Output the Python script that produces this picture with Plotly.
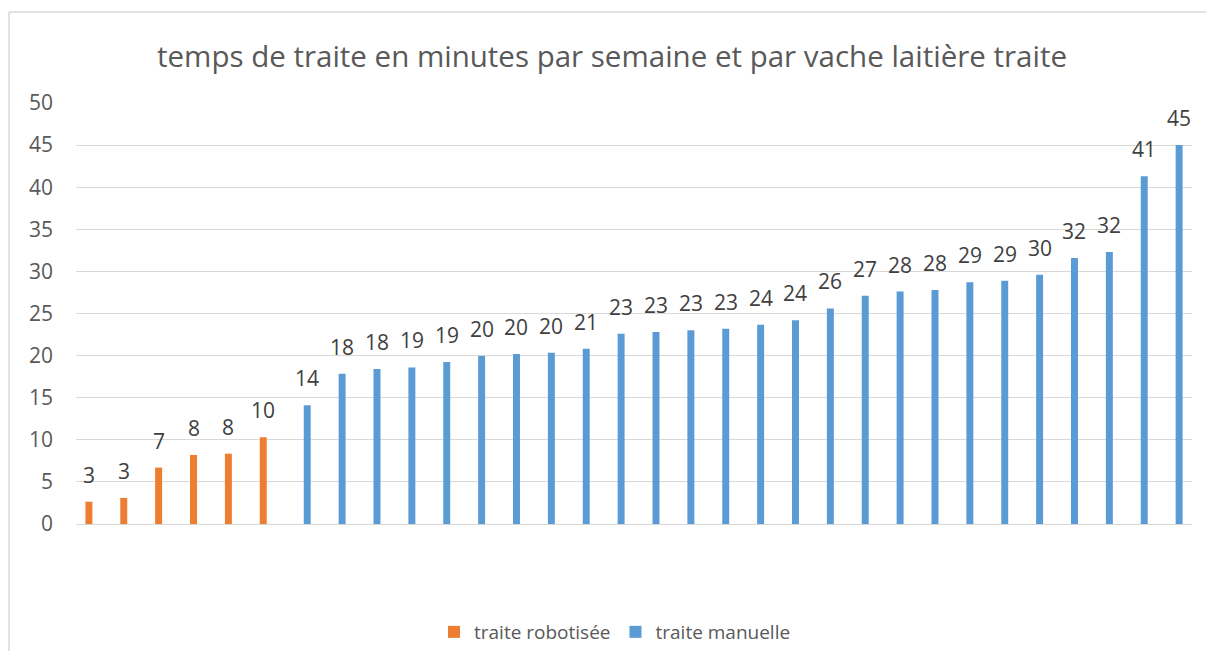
import plotly.graph_objects as go

# category index (one per farm), 1..32
categories = list(range(1, 33))

# temps de traite robotisée (first 6 farms)
robot_values = [2.65, 3.1, 6.7, 8.2, 8.35, 10.3] + [None] * 26

# temps de traite manuelle (remaining 26 farms)
manual_values = [None] * 6 + [
    14.1, 17.85, 18.4, 18.6, 19.25, 19.95, 20.2, 20.35, 20.8,
    22.6, 22.8, 23.0, 23.2, 23.65, 24.2, 25.6, 27.1,
    27.6, 27.8, 28.7, 28.9, 29.6, 31.6, 32.3, 41.3, 45.0,
]

ORANGE = "#ED7D31"
BLUE = "#5B9BD5"
GREY_TXT = "#595959"
LABEL_TXT = "#404040"

# the page body has an 8px margin, so figure pixels = screen pixels - 8
W, H = 1198, 643
L, R, T, B = 68, 1184, 95, 516

# half distance between the two bars of a group, in category units
GROUP_SHIFT = 0.1305


def px_to_paper(x, y):
    return (x - L) / (R - L), (B - y) / (B - T)


fig = go.Figure()

fig.add_trace(go.Bar(
    x=categories,
    y=robot_values,
    name="traite robotisée",
    marker=dict(color=ORANGE, line=dict(width=0)),
))

fig.add_trace(go.Bar(
    x=categories,
    y=manual_values,
    name="traite manuelle",
    marker=dict(color=BLUE, line=dict(width=0)),
))

# data labels a bit above each bar, like Excel
for vals, shift in ((robot_values, -GROUP_SHIFT), (manual_values, GROUP_SHIFT)):
    for c, v in zip(categories, vals):
        if v is None:
            continue
        fig.add_annotation(
            x=c + shift,
            y=v,
            text=f"{v:.0f}",
            showarrow=False,
            yanchor="bottom",
            yshift=11,
            font=dict(size=21, color=LABEL_TXT),
        )

# light grey frame (only top and left edges are visible in the screenshot)
fx0, fy0 = px_to_paper(1, 4)
fx1, fy1 = px_to_paper(W, H)
frame = dict(type="line", xref="paper", yref="paper",
             line=dict(color="#d9d9d9", width=1.5), layer="below")
fig.add_shape(x0=fx0, y0=fy0, x1=fx1, y1=fy0, **frame)
fig.add_shape(x0=fx0, y0=fy0, x1=fx0, y1=fy1, **frame)

fig.update_layout(
    width=W,
    height=H,
    margin=dict(l=L, r=W - R, t=T, b=H - B, autoexpand=False),
    paper_bgcolor="white",
    plot_bgcolor="white",
    font=dict(family="Open Sans, sans-serif", color=GREY_TXT),
    title=dict(
        text="temps de traite en minutes par semaine et par vache laitière traite",
        x=604 / W,
        xref="container",
        xanchor="center",
        y=1 - 49 / H,
        yanchor="middle",
        font=dict(size=29.5, color=GREY_TXT),
    ),
    barmode="group",
    bargap=0.478,
    bargroupgap=0.234,
    showlegend=True,
    legend=dict(
        orientation="h",
        xref="container",
        yref="container",
        x=607 / W,
        y=1 - 624 / H,
        xanchor="center",
        yanchor="middle",
        font=dict(size=19, color=GREY_TXT),
        traceorder="normal",
    ),
)

fig.update_xaxes(
    type="linear",
    range=[0.5, 32.5],
    showticklabels=False,
    showgrid=False,
    zeroline=False,
    showline=False,
    ticks="",
)

fig.update_yaxes(
    range=[0, 50],
    dtick=5,
    showgrid=True,
    gridcolor="#d9d9d9",
    gridwidth=1,
    zeroline=True,
    zerolinecolor="#d9d9d9",
    zerolinewidth=1,
    showline=False,
    ticks="",
    ticklabelstandoff=22,
    tickfont=dict(size=21, color=GREY_TXT),
)

fig.write_html("out.html")
